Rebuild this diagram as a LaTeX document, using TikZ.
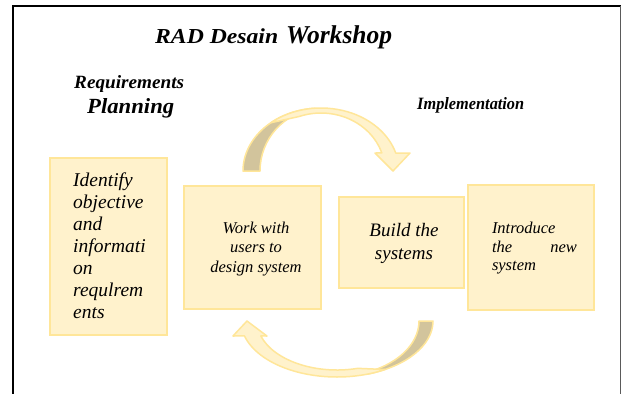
\documentclass[tikz,border=0pt]{standalone}
\usepackage{fontspec}
\setmainfont{Liberation Serif}
\usepackage{graphicx}
\usetikzlibrary{calc}
\definecolor{boxfill}{HTML}{FFF2CC}
\definecolor{boxline}{HTML}{FFE699}
\definecolor{backfill}{RGB}{210,196,156}
\definecolor{framegray}{RGB}{90,90,90}
\tikzset{
  rbox/.style={draw=boxline, fill=boxfill, line width=2pt, inner sep=0pt},
  btext/.style={inner sep=0pt, font=\itshape},
  ttl/.style={inner sep=0pt, anchor=base west, font=\bfseries\itshape},
  arrowlight/.style={draw=boxline, fill=boxfill, line width=1.5pt, line join=round},
  arrowdark/.style={draw=boxline, fill=backfill, line width=1.5pt, line join=round},
}
\begin{document}
\begin{tikzpicture}[x=1pt,y=-1pt]
\useasboundingbox (0,0) rectangle (622,394);
\fill[white] (0,0) rectangle (622,394);
% frame
\draw[line width=2pt] (13,394) -- (13,6) -- (621,6);
\draw[framegray, line width=1.5pt] (620.5,6) -- (620.5,394);
% headings
\node[ttl] (t1) at (155,43.7) {\resizebox{123pt}{14.8pt}{RAD Desain}};
\node[ttl] (t2) at (286,43.7) {\resizebox{106pt}{17.8pt}{Workshop}};
\node[ttl] (rq) at (74,88.5) {\resizebox{110pt}{13pt}{Requirements}};
\node[ttl] (pl) at (87,113.3) {\resizebox{87pt}{15pt}{Planning}};
\node[ttl] (im) at (417,109) {\resizebox{107pt}{12pt}{Implementation}};
% boxes
\node[rbox, minimum width=117pt, minimum height=177pt] (b1) at (108.5,246.5) {};
\node[rbox, minimum width=137pt, minimum height=123pt] (b2) at (252.5,247.5) {};
\node[rbox, minimum width=125pt, minimum height=91pt] (b3) at (401.5,242.5) {};
\node[rbox, minimum width=126pt, minimum height=125pt] (b4) at (531,247.5) {};
% box texts
\node[btext, align=left, font=\itshape\fontsize{19.5}{22}\selectfont] (b1t) at (109.5,245.5)
  {Identify\\objective\\and\\informati\\on\\requlrem\\ents};
\node[btext, align=center, font=\itshape\fontsize{16.5}{19.5}\selectfont] (b2t) at (256,249)
  {Work with\\users to\\design system};
\node[btext, align=center, font=\itshape\fontsize{19}{22.5}\selectfont] (b3t) at (404,243.5)
  {Build the\\systems};
\node[btext, text width=85pt, align=left, font=\itshape\fontsize{16.5}{18.5}\selectfont] (b4t) at (534.5,248.3)
  {Introduce\\the\hfill new\\system};
% top curved arrow
\coordinate (tc) at (321,171);
\draw[arrowdark] ($(tc)+(180:78 and 63)$)
  arc[start angle=180, end angle=265, x radius=78, y radius=63]
  -- ($(tc)+(265:61 and 62)$)
  arc[start angle=265, end angle=180, x radius=61, y radius=62] -- cycle;
\draw[arrowlight] ($(tc)+(230:78 and 63)$)
  arc[start angle=230, end angle=343.4, x radius=78, y radius=63]
  -- (410,153) -- (393,171) -- (375,153)
  -- ($(tc)+(341.9:64 and 58)$)
  arc[start angle=341.9, end angle=250, x radius=64, y radius=58] -- cycle;
% bottom curved arrow
\coordinate (bc) at (337,321);
\draw[arrowdark] ($(bc)+(0:96 and 56)$)
  arc[start angle=0, end angle=72, x radius=96, y radius=56]
  -- ($(bc)+(72:82 and 55)$)
  arc[start angle=72, end angle=0, x radius=82, y radius=55] -- cycle;
\draw[arrowlight] ($(bc)+(60:96 and 56)$)
  arc[start angle=60, end angle=164.5, x radius=96, y radius=56]
  -- (233,336) -- (247,321) -- (267,336)
  -- ($(bc)+(162.2:80 and 49)$)
  arc[start angle=162.2, end angle=75, x radius=80, y radius=49] -- cycle;
\end{tikzpicture}
\end{document}
